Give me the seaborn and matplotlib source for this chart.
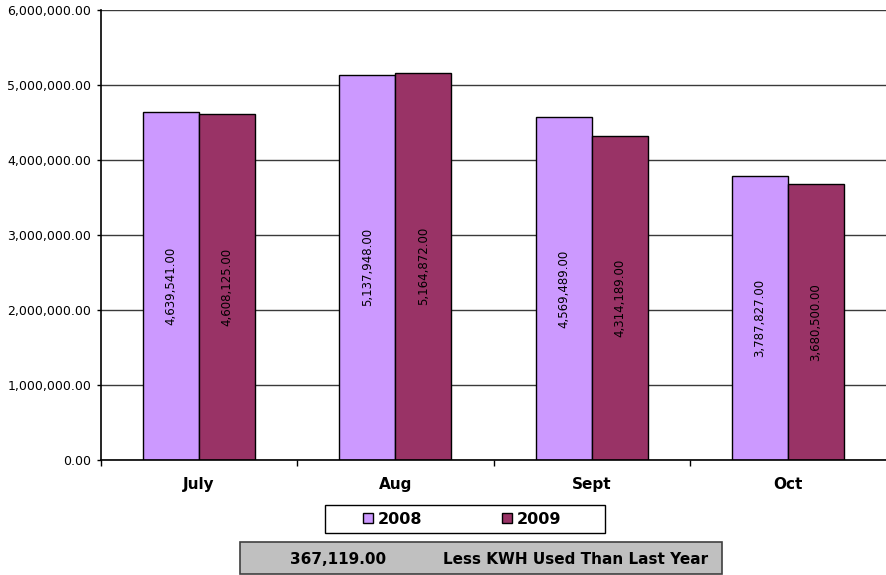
import pandas as pd
import matplotlib.pyplot as plt
import seaborn as sns
from matplotlib.patches import Rectangle
from matplotlib.ticker import FuncFormatter

# data
months = ["July", "Aug", "Sept", "Oct"]
kwh_2008 = [4639541, 5137948, 4569489, 3787827]
kwh_2009 = [4608125, 5164872, 4314189, 3680500]
years = ["2008", "2009"]
saved_text = "367,119.00"
note_text = "Less KWH Used Than Last Year"

sns.set_style("white")
plt.rcParams['font.family'] = ['DejaVu Sans']
plt.rcParams['text.color'] = 'black'
plt.rcParams['xtick.color'] = 'black'
plt.rcParams['ytick.color'] = 'black'

df = pd.DataFrame({
    "month": months * 2,
    "kwh": kwh_2008 + kwh_2009,
    "year": [years[0]] * len(months) + [years[1]] * len(months),
})

W, H = 886, 575
fig = plt.figure(figsize=(W / 100, H / 100), dpi=100)
ax = fig.add_axes([101 / W, 115 / H, 785 / W, 450 / H])

sns.barplot(data=df, x="month", y="kwh", hue="year",
            palette=["#CC99FF", "#993366"], saturation=1,
            width=0.57, gap=0, edgecolor="black", linewidth=1, ax=ax)

# value labels inside bars
for cont, vals in zip(ax.containers, [kwh_2008, kwh_2009]):
    ax.bar_label(cont, labels=[f"{v:,.2f}" for v in vals], label_type="center",
                 rotation=90, fontsize=8.5, color="black")

# axes styling
ax.set_ylim(0, 6_000_000)
ax.set_yticks(range(0, 6_000_001, 1_000_000))
ax.yaxis.set_major_formatter(FuncFormatter(lambda v, p: f"{v:,.2f}"))
ax.yaxis.grid(True, color="#3a3a3a", linewidth=1)
ax.set_axisbelow(True)
ax.set_xlim(-0.5, 3.5)
ax.set_xlabel("")
ax.set_ylabel("")
for s in ["top", "right"]:
    ax.spines[s].set_visible(False)
for s in ["left", "bottom"]:
    ax.spines[s].set_color("black")
    ax.spines[s].set_linewidth(1.2)

ax.tick_params(axis="y", left=True, length=3, width=1, pad=4, labelsize=9, colors="black")
ax.tick_params(axis="x", which="major", length=0, pad=12, labelsize=11, labelcolor="black")
ax.set_xticks([-0.5, 0.5, 1.5, 2.5], minor=True)
ax.tick_params(axis="x", which="minor", bottom=True, length=4, width=1, color="black")
for lbl in ax.get_xticklabels():
    lbl.set_fontweight("bold")

# legend in its own box
handles, labels = ax.get_legend_handles_labels()
ax.get_legend().remove()
fig.legend(handles, labels, ncol=2, loc="center",
           bbox_to_anchor=(462 / W, 1 - 519 / H), frameon=False,
           handlelength=0.6, handleheight=0.6, handletextpad=0.3,
           columnspacing=5.0, prop=dict(weight="bold", size=11.5),
           labelcolor="black")
fig.add_artist(Rectangle((325 / W, 1 - 533 / H), 280 / W, 28 / H,
                         transform=fig.transFigure, fill=False,
                         edgecolor="black", linewidth=1))

# summary box
fig.add_artist(Rectangle((240 / W, 1 - 574 / H), 482 / W, 32 / H,
                         transform=fig.transFigure, facecolor="#C0C0C0",
                         edgecolor="#404040", linewidth=1.2))
fig.text(290 / W, 1 - 560 / H, saved_text, fontsize=11, fontweight="bold",
         va="center", color="black")
fig.text(443 / W, 1 - 560 / H, note_text, fontsize=11, fontweight="bold",
         va="center", color="black")

fig.savefig("out.png", dpi=100)
